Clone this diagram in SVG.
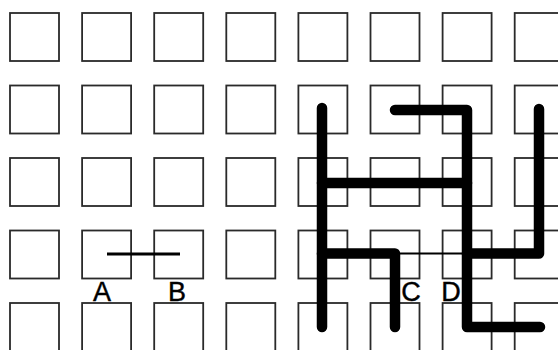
<svg xmlns="http://www.w3.org/2000/svg" xmlns:xlink="http://www.w3.org/1999/xlink" width="558" height="350" viewBox="0 0 558 350">
<style>
.sq{fill:#fff;stroke:#2a2a2a;stroke-width:1.8}
.thick{fill:none;stroke:#000;stroke-width:10.5;stroke-linecap:round;stroke-linejoin:round}
.thin{fill:none;stroke:#000;stroke-width:2}
.ab{fill:none;stroke:#000;stroke-width:3}
.lbl{font-family:"Liberation Sans",Arial,sans-serif;font-size:27px;fill:#000;stroke:#000;stroke-width:0.4;text-anchor:middle}
</style>
<defs><rect id="s" class="sq" width="49" height="48"/></defs>
<rect width="558" height="350" fill="#fff"/>
<g id="grid">
<g id="row1"><use xlink:href="#s" x="10" y="13"/><use xlink:href="#s" x="82.1" y="13"/><use xlink:href="#s" x="154.2" y="13"/><use xlink:href="#s" x="226.3" y="13"/><use xlink:href="#s" x="298.4" y="13"/><use xlink:href="#s" x="370.5" y="13"/><use xlink:href="#s" x="442.6" y="13"/><use xlink:href="#s" x="514.7" y="13"/></g>
<g id="row2"><use xlink:href="#s" x="10" y="85.5"/><use xlink:href="#s" x="82.1" y="85.5"/><use xlink:href="#s" x="154.2" y="85.5"/><use xlink:href="#s" x="226.3" y="85.5"/><use xlink:href="#s" x="298.4" y="85.5"/><use xlink:href="#s" x="370.5" y="85.5"/><use xlink:href="#s" x="442.6" y="85.5"/><use xlink:href="#s" x="514.7" y="85.5"/></g>
<g id="row3"><use xlink:href="#s" x="10" y="158"/><use xlink:href="#s" x="82.1" y="158"/><use xlink:href="#s" x="154.2" y="158"/><use xlink:href="#s" x="226.3" y="158"/><use xlink:href="#s" x="298.4" y="158"/><use xlink:href="#s" x="370.5" y="158"/><use xlink:href="#s" x="442.6" y="158"/><use xlink:href="#s" x="514.7" y="158"/></g>
<g id="row4"><use xlink:href="#s" x="10" y="230.5"/><use xlink:href="#s" x="82.1" y="230.5"/><use xlink:href="#s" x="154.2" y="230.5"/><use xlink:href="#s" x="226.3" y="230.5"/><use xlink:href="#s" x="298.4" y="230.5"/><use xlink:href="#s" x="370.5" y="230.5"/><use xlink:href="#s" x="442.6" y="230.5"/><use xlink:href="#s" x="514.7" y="230.5"/></g>
<g id="row5"><use xlink:href="#s" x="10" y="303"/><use xlink:href="#s" x="82.1" y="303"/><use xlink:href="#s" x="154.2" y="303"/><use xlink:href="#s" x="226.3" y="303"/><use xlink:href="#s" x="298.4" y="303"/><use xlink:href="#s" x="370.5" y="303"/><use xlink:href="#s" x="442.6" y="303"/><use xlink:href="#s" x="514.7" y="303"/></g>
</g>
<g id="lines">
<line class="ab" x1="107" y1="254" x2="180" y2="254"/>
<line class="thin" x1="395" y1="253.5" x2="467" y2="253.5"/>
<path class="thick" d="M322 108 V327"/>
<path class="thick" d="M322 183 H467"/>
<path class="thick" d="M322 253.5 H395 V327"/>
<path class="thick" d="M395 110 H467 V327 H540"/>
<path class="thick" d="M467 253.5 H539 V109"/>
</g>
<g id="labels">
<text class="lbl" x="102" y="301">A</text>
<text class="lbl" x="177" y="301">B</text>
<text class="lbl" x="411" y="301">C</text>
<text class="lbl" x="451" y="301">D</text>
</g>
</svg>
